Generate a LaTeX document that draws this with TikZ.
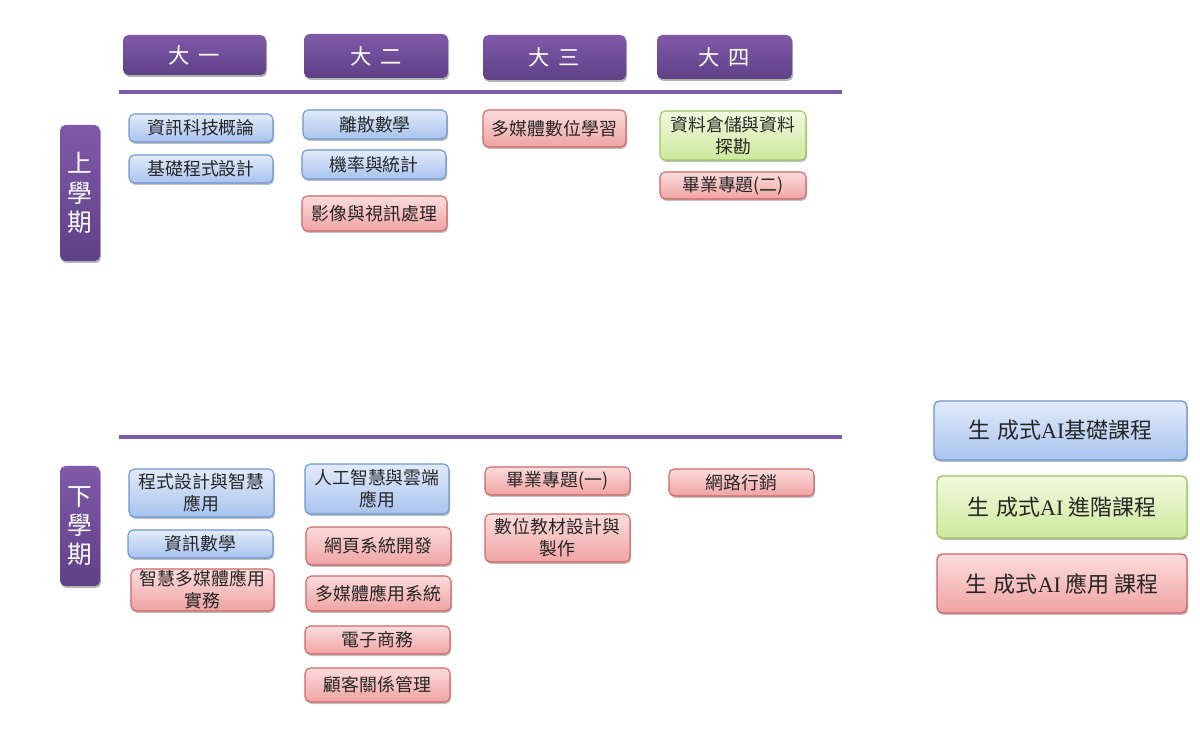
\documentclass[tikz,border=0pt]{standalone}
\usepackage{fontspec}
\setmainfont{Noto Sans CJK TC}
\newfontfamily\latinserif{Liberation Serif}
\usetikzlibrary{shadows}
\definecolor{purpT}{HTML}{8059A8}
\definecolor{purpB}{HTML}{5E4187}
\definecolor{purpLine}{HTML}{7D5BA6}
\definecolor{bluT}{HTML}{E2EBFA}
\definecolor{bluB}{HTML}{A8C3EE}
\definecolor{bluD}{HTML}{6D96D0}
\definecolor{redT}{HTML}{FCDCDC}
\definecolor{redB}{HTML}{F0A3A3}
\definecolor{redD}{HTML}{CF6666}
\definecolor{grnT}{HTML}{F2F9E0}
\definecolor{grnB}{HTML}{CDE99B}
\definecolor{grnD}{HTML}{9CC55E}
\tikzset{
  base/.style={rounded corners=4pt, line width=0.8pt, inner sep=1pt, align=center,
    font=\fontsize{13.4}{16.5}\selectfont, text=black!85,
    drop shadow={shadow xshift=0.8pt, shadow yshift=-1.5pt, opacity=0.25, fill=black}},
  bluebox/.style={base, draw=bluD, top color=bluT, bottom color=bluB},
  redbox/.style={base, draw=redD, top color=redT, bottom color=redB},
  greenbox/.style={base, draw=grnD, top color=grnT, bottom color=grnB},
  headbox/.style={rounded corners=4pt, draw=none, top color=purpT, bottom color=purpB,
    text=white, font=\fontsize{16}{19}\selectfont, inner sep=1pt, align=center,
    drop shadow={shadow xshift=0.8pt, shadow yshift=-1.5pt, opacity=0.3, fill=black}},
  sidebox/.style={headbox, font=\fontsize{18.5}{22}\selectfont},
  legbox/.style={base, line width=1pt, font=\fontsize{16.5}{19}\selectfont},
  divider/.style={draw=purpLine, line width=2.4pt}
}
\newcommand\mybox[7]{%
  \node[#2, minimum width={(#5-#3)*0.75pt}, minimum height={(#6-#4)*0.75pt}] (#1)
    at ({(#3+#5)/2},{(#4+#6)/2}) {#7};}
\begin{document}
\begin{tikzpicture}[x=0.75pt,y=-0.75pt]
\useasboundingbox[fill=white] (0,0) rectangle (1200,730);
% headers
\mybox{h1}{headbox}{123}{35}{266}{75}{大\hspace{0.4em}一}
\mybox{h2}{headbox}{304}{34}{448}{78}{大\hspace{0.4em}二}
\mybox{h3}{headbox}{483}{35}{626}{80}{大\hspace{0.4em}三}
\mybox{h4}{headbox}{657}{35}{792}{79}{大\hspace{0.4em}四}
% dividers
\coordinate (l1a) at (119,92); \coordinate (l1b) at (842,92);
\coordinate (l2a) at (119,437); \coordinate (l2b) at (842,437);
\draw[divider] (l1a) -- (l1b);
\draw[divider] (l2a) -- (l2b);
% side labels
\mybox{s1}{sidebox}{60}{125}{100}{261}{上\\學\\期}
\mybox{s2}{sidebox}{60}{466}{100}{586}{下\\學\\期}
% upper semester
\mybox{a1}{bluebox}{129}{114}{273}{142}{資訊科技概論}
\mybox{a2}{bluebox}{129}{155}{273}{183}{基礎程式設計}
\mybox{b1}{bluebox}{303}{110}{447}{139}{離散數學}
\mybox{b2}{bluebox}{302}{150}{446}{179}{機率與統計}
\mybox{b3}{redbox}{302}{196}{447}{231}{影像與視訊處理}
\mybox{c1}{redbox}{483}{110}{626}{147}{多媒體數位學習}
\mybox{d1}{greenbox}{660}{111}{806}{160}{資料倉儲與資料\\探勘}
\mybox{d2}{redbox}{660}{172}{806}{199}{畢業專題(二)}
% lower semester
\mybox{e1}{bluebox}{129}{469}{274}{517}{程式設計與智慧\\應用}
\mybox{e2}{bluebox}{128}{530}{273}{558}{資訊數學}
\mybox{e3}{redbox}{131}{569}{274}{611}{智慧多媒體應用\\實務}
\mybox{f1}{bluebox}{305}{464}{449}{514}{人工智慧與雲端\\應用}
\mybox{f2}{redbox}{306}{527}{451}{565}{網頁系統開發}
\mybox{f3}{redbox}{306}{576}{451}{611}{多媒體應用系統}
\mybox{f4}{redbox}{305}{626}{450}{654}{電子商務}
\mybox{f5}{redbox}{305}{668}{450}{702}{顧客關係管理}
\mybox{g1}{redbox}{485}{467}{630}{495}{畢業專題(一)}
\mybox{g2}{redbox}{485}{514}{630}{562}{數位教材設計與\\製作}
\mybox{k1}{redbox}{669}{469}{814}{496}{網路行銷}
% legend
\mybox{L1}{legbox, draw=bluD, top color=bluT, bottom color=bluB}{934}{401}{1187}{460}{生\hspace{0.3em}成式{\latinserif AI}基礎課程}
\mybox{L2}{legbox, draw=grnD, top color=grnT, bottom color=grnB}{937}{476}{1187}{538}{生\hspace{0.3em}成式{\latinserif AI} 進階課程}
\mybox{L3}{legbox, draw=redD, top color=redT, bottom color=redB}{937}{554}{1187}{613}{生\hspace{0.3em}成式{\latinserif AI} 應用 課程}
\end{tikzpicture}
\end{document}
